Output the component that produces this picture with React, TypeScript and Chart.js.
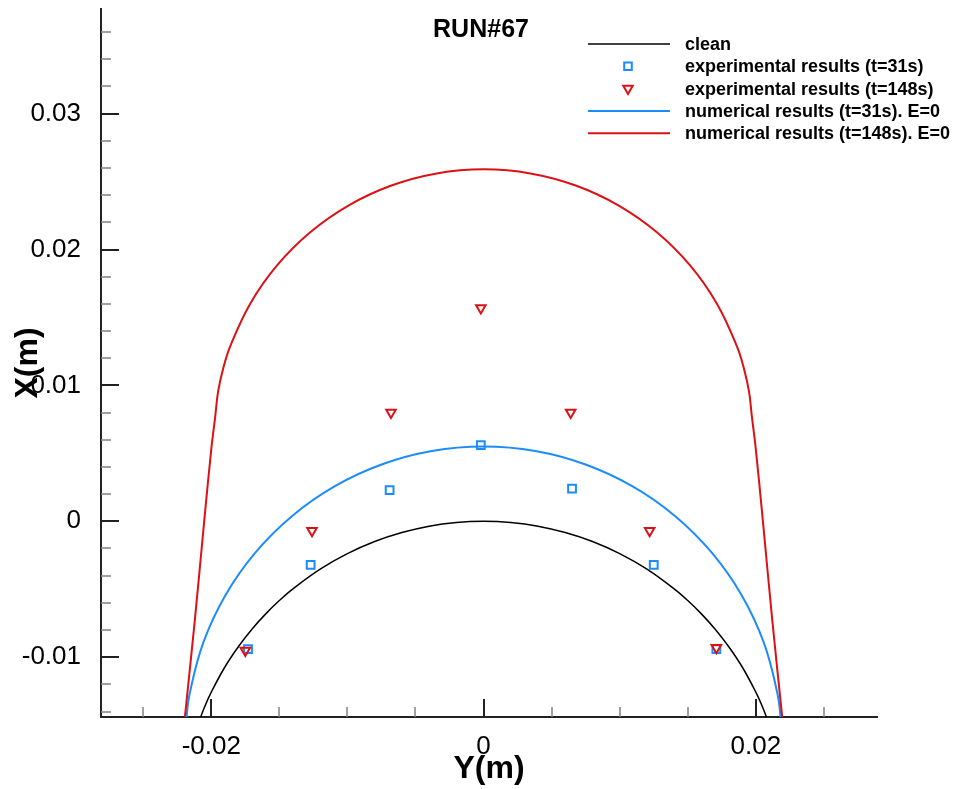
import React, { useEffect, useRef } from 'react';
import { Chart, registerables } from 'chart.js';

Chart.register(...registerables);

// ---- Data (horizontal axis = "Y(m)", vertical axis = "X(m)") ----
const cleanH = [-0.0210, -0.0205, -0.0200, -0.0190, -0.0180, -0.0170, -0.0160, -0.0150, -0.0140, -0.0120, -0.0100, -0.0080, -0.0060, -0.0040, -0.0020, 0, 0.0020, 0.0040, 0.0060, 0.0080, 0.0100, 0.0120, 0.0140, 0.0150, 0.0160, 0.0170, 0.0180, 0.0190, 0.0200, 0.0205, 0.0210];
const cleanV = [-0.0150, -0.01368, -0.01257, -0.01072, -0.00921, -0.00792, -0.00681, -0.00583, -0.00497, -0.00352, -0.00238, -0.00149, -0.00083, -0.00036, -0.00009, 0, -0.00009, -0.00036, -0.00083, -0.00149, -0.00238, -0.00352, -0.00497, -0.00583, -0.00681, -0.00792, -0.00921, -0.01072, -0.01257, -0.01368, -0.0150];

const exp31H = [-0.0173, -0.0127, -0.0069, -0.0002, 0.0065, 0.0125, 0.0171];
const exp31V = [-0.0094, -0.0032, 0.0023, 0.0056, 0.0024, -0.0032, -0.0094];

const exp148H = [-0.0175, -0.0126, -0.0068, -0.0002, 0.0064, 0.0122, 0.0171];
const exp148V = [-0.0095, -0.0007, 0.0080, 0.0157, 0.0080, -0.0007, -0.0093];

const num31H = [-0.0219, -0.02182, -0.02157, -0.02058, -0.01897, -0.01678, -0.01408, -0.01095, -0.00749, -0.00380, 0, 0.00380, 0.00749, 0.01095, 0.01408, 0.01678, 0.01897, 0.02058, 0.02157, 0.02182, 0.0219];
const num31V = [-0.0164, -0.01449, -0.01260, -0.00891, -0.00545, -0.00232, 0.00038, 0.00257, 0.00418, 0.00517, 0.0055, 0.00517, 0.00418, 0.00257, 0.00038, -0.00232, -0.00545, -0.00891, -0.01260, -0.01449, -0.0164];

const num148H = [-0.0220, -0.0212, -0.02052, -0.0200, -0.01971, -0.01950, -0.01913, -0.01861, -0.01715, -0.01517, -0.01273, -0.0099, -0.00677, -0.00344, 0, 0.00344, 0.00677, 0.0099, 0.01273, 0.01517, 0.01715, 0.01861, 0.01913, 0.01950, 0.01971, 0.0200, 0.02052, 0.0212, 0.0220];
const num148V = [-0.0150, -0.0072, 0.0000, 0.0053, 0.0077, 0.00954, 0.01122, 0.01287, 0.01600, 0.01883, 0.02127, 0.02325, 0.02471, 0.02560, 0.0259, 0.02560, 0.02471, 0.02325, 0.02127, 0.01883, 0.01600, 0.01287, 0.01122, 0.00954, 0.0077, 0.0053, 0.0000, -0.0072, -0.0150];

const seriesLabels = [
  'clean',
  'experimental results (t=31s)',
  'experimental results (t=148s)',
  'numerical results (t=31s). E=0',
  'numerical results (t=148s). E=0',
];

const titleText = 'RUN#67';
const xTitle = 'Y(m)';
const yTitle = 'X(m)';

const xRange = [-0.0281, 0.0289];
const yRange = [-0.0144, 0.0377];
const xTickValues = [-0.025, -0.02, -0.015, -0.01, -0.005, 0, 0.005, 0.01, 0.015, 0.02, 0.025];
const xMajorStep = 0.02;
const yTickValues = [-0.014, -0.012, -0.01, -0.008, -0.006, -0.004, -0.002, 0, 0.002, 0.004, 0.006, 0.008, 0.01, 0.012, 0.014, 0.016, 0.018, 0.02, 0.022, 0.024, 0.026, 0.028, 0.03, 0.032, 0.034, 0.036];
const yMajorStep = 0.01;

const COLOR_CLEAN = '#000000';
const COLOR_BLUE = '#1a8cff';
const COLOR_RED = '#dd1016';
const FONT = '"Liberation Sans", Arial, Helvetica, sans-serif';

const pts = (h: number[], v: number[]) => h.map((x, i) => ({ x, y: v[i] }));
const isMajor = (v: number, step: number) => Math.abs(v / step - Math.round(v / step)) < 1e-6;
const fmt = (v: number) => String(Math.round(v * 1000) / 1000);

const overlayPlugin = {
  id: 'overlay',
  afterDraw(chart: any) {
    const ctx = chart.ctx as CanvasRenderingContext2D;
    const { left, bottom } = chart.chartArea;
    const xs = chart.scales.x;
    const ys = chart.scales.y;
    ctx.save();
    // inward ticks
    for (const t of xs.ticks) {
      const px = Math.round(xs.getPixelForValue(t.value));
      const major = isMajor(t.value, xMajorStep);
      ctx.strokeStyle = major ? '#222' : '#808080';
      ctx.lineWidth = major ? 2 : 1.5;
      ctx.beginPath();
      ctx.moveTo(px, bottom);
      ctx.lineTo(px, bottom - (major ? 18 : 10));
      ctx.stroke();
    }
    for (const t of ys.ticks) {
      const py = Math.round(ys.getPixelForValue(t.value));
      const major = isMajor(t.value, yMajorStep);
      ctx.strokeStyle = major ? '#222' : '#808080';
      ctx.lineWidth = major ? 2 : 1.5;
      ctx.beginPath();
      ctx.moveTo(left, py);
      ctx.lineTo(left + (major ? 18 : 10), py);
      ctx.stroke();
    }
    // titles
    ctx.fillStyle = '#000';
    ctx.textAlign = 'center';
    ctx.textBaseline = 'middle';
    ctx.font = `bold 25px ${FONT}`;
    ctx.fillText(titleText, 481, 30);
    ctx.font = `bold 32px ${FONT}`;
    ctx.fillText(xTitle, 489, 769);
    ctx.save();
    ctx.translate(28, 363);
    ctx.rotate(-Math.PI / 2);
    ctx.fillText(yTitle, 0, 0);
    ctx.restore();
    // legend
    const lx0 = 588, lx1 = 670, tx = 685, ly0 = 44, dy = 22.3;
    ctx.font = `bold 18px ${FONT}`;
    ctx.textAlign = 'left';
    chart.data.datasets.forEach((ds: any, i: number) => {
      const y = ly0 + i * dy;
      if (ds.showLine) {
        ctx.strokeStyle = ds.borderColor;
        ctx.lineWidth = ds.borderWidth;
        ctx.beginPath();
        ctx.moveTo(lx0, y);
        ctx.lineTo(lx1, y);
        ctx.stroke();
      } else {
        const cx = (lx0 + lx1) / 2 - 1;
        ctx.strokeStyle = ds.borderColor;
        ctx.lineWidth = ds.borderWidth;
        ctx.beginPath();
        if (ds.pointStyle === 'rect') {
          ctx.rect(cx - 3.8, y - 3.8, 7.6, 7.6);
        } else {
          const r = ds.pointRadius;
          ctx.moveTo(cx, y + r);
          ctx.lineTo(cx - r * 0.866, y - r / 2);
          ctx.lineTo(cx + r * 0.866, y - r / 2);
          ctx.closePath();
        }
        ctx.stroke();
      }
      ctx.fillStyle = '#000';
      ctx.fillText(ds.label, tx, y + 1);
    });
    ctx.restore();
  },
};

export default function App() {
  const ref = useRef<HTMLCanvasElement>(null);
  useEffect(() => {
    const canvas = ref.current!;
    const chart = new Chart(canvas, {
      type: 'scatter',
      data: {
        datasets: [
          {
            label: seriesLabels[0],
            data: pts(cleanH, cleanV),
            showLine: true,
            borderColor: COLOR_CLEAN,
            borderWidth: 1.5,
            pointRadius: 0,
            tension: 0.4,
            order: 5,
          },
          {
            label: seriesLabels[1],
            data: pts(exp31H, exp31V),
            showLine: false,
            pointStyle: 'rect',
            pointRadius: 5.5,
            borderColor: COLOR_BLUE,
            backgroundColor: 'rgba(0,0,0,0)',
            borderWidth: 2,
            order: 2,
          },
          {
            label: seriesLabels[2],
            data: pts(exp148H, exp148V),
            showLine: false,
            pointStyle: 'triangle',
            rotation: 180,
            pointRadius: 5.5,
            borderColor: COLOR_RED,
            backgroundColor: 'rgba(0,0,0,0)',
            borderWidth: 2,
            order: 1,
          },
          {
            label: seriesLabels[3],
            data: pts(num31H, num31V),
            showLine: true,
            borderColor: COLOR_BLUE,
            borderWidth: 2,
            pointRadius: 0,
            tension: 0.4,
            order: 4,
          },
          {
            label: seriesLabels[4],
            data: pts(num148H, num148V),
            showLine: true,
            borderColor: COLOR_RED,
            borderWidth: 2,
            pointRadius: 0,
            tension: 0.4,
            order: 3,
          },
        ],
      },
      options: {
        responsive: false,
        animation: false,
        devicePixelRatio: 1,
        layout: { padding: { left: 0, right: 85, top: 9, bottom: 0 } },
        plugins: {
          legend: { display: false },
          title: { display: false },
          tooltip: { enabled: false },
        },
        events: [],
        scales: {
          x: {
            type: 'linear',
            min: xRange[0],
            max: xRange[1],
            afterBuildTicks: (s: any) => { s.ticks = xTickValues.map((value) => ({ value })); },
            afterFit: (s: any) => { s.height = 72; s.paddingLeft = 0; s.paddingRight = 0; },
            grid: { display: false },
            border: { display: true, color: '#222', width: 2 },
            ticks: {
              autoSkip: false,
              maxRotation: 0,
              padding: 6,
              color: '#000',
              font: { family: FONT, size: 26 },
              callback: (v: any) => (isMajor(Number(v), xMajorStep) ? fmt(Number(v)) : ''),
            },
          },
          y: {
            type: 'linear',
            min: yRange[0],
            max: yRange[1],
            afterBuildTicks: (s: any) => { s.ticks = yTickValues.map((value) => ({ value })); },
            afterFit: (s: any) => { s.width = 101; s.paddingTop = 0; s.paddingBottom = 0; },
            grid: { display: false },
            border: { display: true, color: '#222', width: 2 },
            ticks: {
              autoSkip: false,
              padding: 12,
              color: '#000',
              font: { family: FONT, size: 26 },
              callback: (v: any) => (isMajor(Number(v), yMajorStep) ? fmt(Number(v)) : ''),
            },
          },
        },
      },
      plugins: [overlayPlugin],
    } as any);
    return () => chart.destroy();
  }, []);
  return (
    <div style={{ position: 'fixed', left: 0, top: 0, width: 962, height: 789, background: '#fff' }}>
      <canvas ref={ref} width={962} height={789} style={{ display: 'block', width: 962, height: 789 }} />
    </div>
  );
}
